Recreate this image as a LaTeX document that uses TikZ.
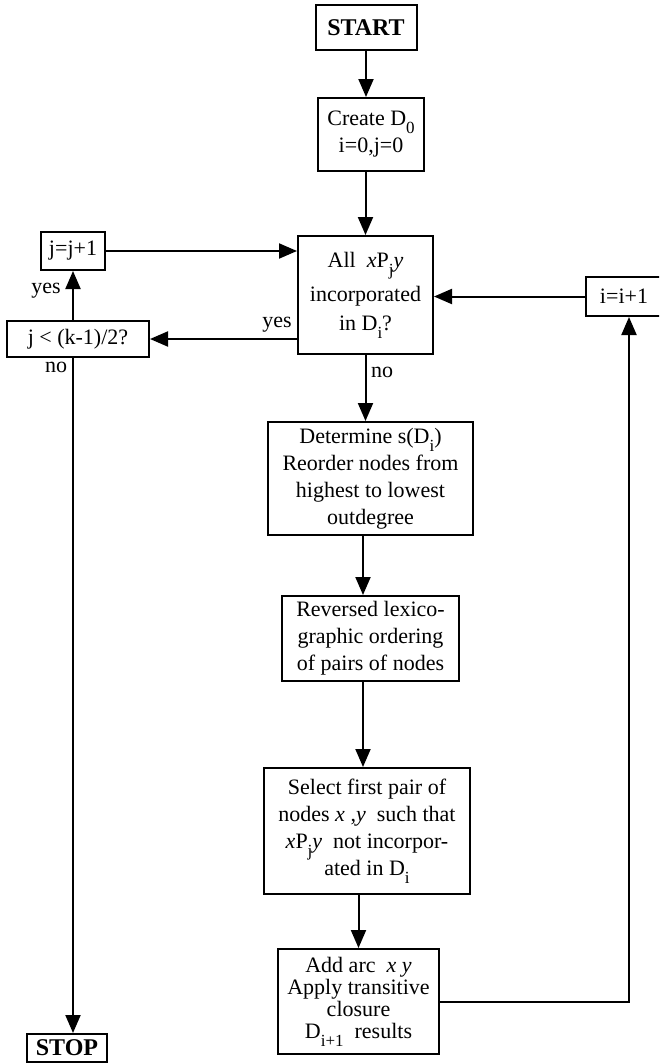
\documentclass[tikz,border=0pt]{standalone}
\usepackage{fontspec}
\setmainfont{Liberation Serif}
\usetikzlibrary{arrows.meta}
\newcommand\lsub[1]{\raisebox{-0.36em}{\fontsize{17}{17}\selectfont #1}}
\tikzset{
  box/.style={draw, line width=2pt, inner sep=0pt, align=center,
              font=\fontsize{22}{27}\selectfont},
  termbox/.style={box, font=\fontsize{24}{27}\selectfont\bfseries},
  lbl/.style={inner sep=0pt, font=\fontsize{22}{27}\selectfont},
  arr/.style={line width=2pt, -{Triangle[length=18pt,width=15pt]}}
}
\begin{document}
\begin{tikzpicture}[x=1pt,y=-1pt]
\useasboundingbox (0,0) rectangle (659,1063);
\clip (0,0) rectangle (659,1063);
% nodes
\node[termbox, minimum width=101pt, minimum height=45pt] (start) at (366,27.5) {START};
\node[box, minimum width=106pt, minimum height=73pt] (create) at (371,134.5) {Create D\lsub{0}\\ i=0,j=0};
\node[box, minimum width=135pt, minimum height=118pt] (all) at (365.5,295)
  {All\ \ \textit{x}P\lsub{j}\textit{y}\\[7pt] incorporated\\[2pt] in D\lsub{i}?};
\node[box, minimum width=205pt, minimum height=113pt] (det) at (370.5,478.5)
  {Determine s(D\lsub{i})\\ Reorder nodes from\\ highest to lowest\\ outdegree};
\node[box, minimum width=177pt, minimum height=85pt] (rev) at (370.5,638.5)
  {Reversed lexico-\\ graphic ordering\\ of pairs of nodes};
\node[box, minimum width=206pt, minimum height=126pt] (sel) at (367,831)
  {Select first pair of\\ nodes \textit{x} ,\textit{y}\ \ such that\\ \textit{x}P\lsub{j}\textit{y}\ \ not incorpor-\\ ated in D\lsub{i}};
\node[box, minimum width=161pt, minimum height=105pt, font=\fontsize{22}{22}\selectfont] (add) at (358.5,1001.5)
  {Add arc\ \ \textit{x y}\\ Apply transitive\\ closure\\ D\lsub{i+1}\ \ results};
\node[box, minimum width=64pt, minimum height=38pt] (jinc) at (73,251) {j=j+1};
\node[box, minimum width=142pt, minimum height=36pt] (jcond) at (78,339) {j < (k-1)/2?};
\node[termbox, minimum width=80pt, minimum height=28pt] (stop) at (67,1048) {STOP};
\node[box, minimum width=76pt, minimum height=39pt] (iinc) at (624,296.5) {i=i+1};
% labels
\node[lbl] (yes1) at (277,325) {yes};
\node[lbl] (yes2) at (46,291) {yes};
\node[lbl] (no1) at (56,367) {no};
\node[lbl] (no2) at (382,372) {no};
% helper coordinates
\coordinate (colx) at (363,0);
\coordinate (rx) at (629,0);
% connectors
\draw[arr] (start.south) -- (start.south |- create.north);
\draw[arr] (all.north |- create.south) -- (all.north);
\draw[arr] (all.south) -- (all.south |- det.north);
\draw[arr] (det.south -| colx) -- (rev.north -| colx);
\draw[arr] (rev.south -| colx) -- (sel.north -| colx);
\draw[arr] (sel.south -| add.north) -- (add.north);
\draw[arr] (add.east) -- (add.east -| rx) -- (rx |- iinc.south);
\draw[arr] (iinc.west) -- (iinc.west -| all.east);
\draw[arr] (jinc.east) -- (jinc.east -| all.west);
\draw[arr] (all.west |- jcond.east) -- (jcond.east);
\draw[arr] (jinc.south |- jcond.north) -- (jinc.south);
\draw[arr] (jinc.south |- jcond.south) -- (jinc.south |- stop.north);
\end{tikzpicture}
\end{document}
